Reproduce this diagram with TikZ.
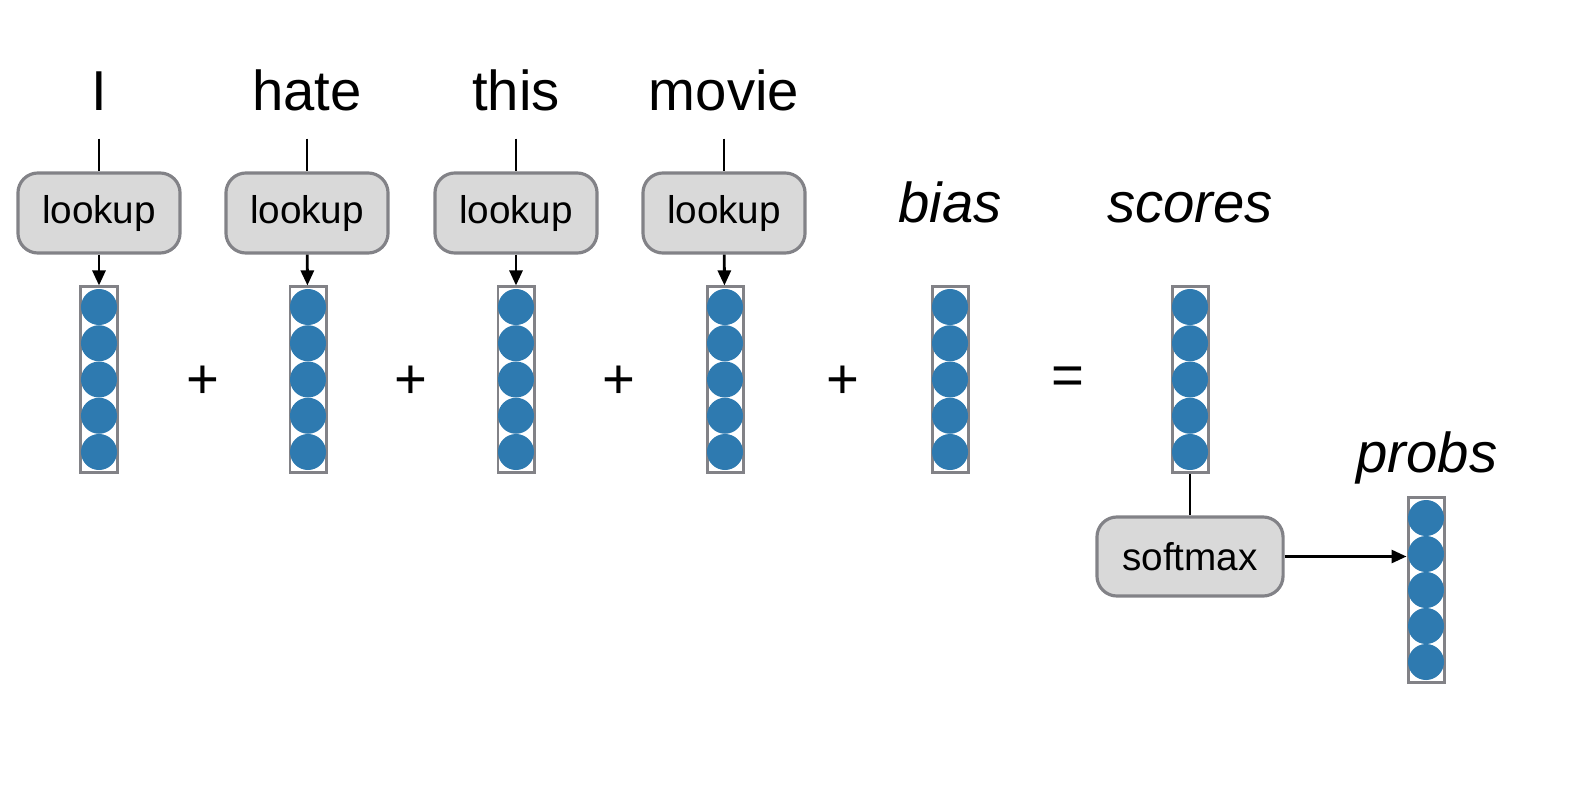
\documentclass[tikz,border=0pt]{standalone}
\usepackage{fontspec}
\setmainfont{Liberation Sans}
\usepackage{xcolor}
\usetikzlibrary{arrows.meta}

\definecolor{dotblue}{RGB}{46,122,176}
\definecolor{boxgrey}{RGB}{217,217,217}
\definecolor{edgegrey}{RGB}{130,130,135}

\tikzset{
  fn/.style={draw=edgegrey, fill=boxgrey, rounded corners=0.2cm, line width=0.9pt,
    minimum width=1.62cm, minimum height=0.8cm, inner sep=0pt, font=\fontsize{11}{13}\selectfont},
  vecbox/.style={draw=edgegrey, line width=0.85pt, minimum width=0.36cm, minimum height=1.85cm, inner sep=0pt},
  word/.style={font=\fontsize{16}{19}\selectfont, text depth=0pt, inner sep=0pt},
  link/.style={line width=0.8pt, black},
  arr/.style={link, -{Triangle[length=0.15cm,width=0.13cm]}}
}

\begin{document}
\begin{tikzpicture}[x=0.01cm,y=-0.01cm]
\useasboundingbox (0,0) rectangle (1580,788);

% input words
\node[word, anchor=base] (wI) at (99,111) {I};
\node[word, anchor=base] (whate) at (307,111) {hate};
\node[word, anchor=base] (wthis) at (516,111) {this};
\node[word, anchor=base] (wmovie) at (724,111) {movie};

% lookups
\node[fn] (lkI) at (99,213) {lookup};
\node[fn] (lkhate) at (307,213) {lookup};
\node[fn] (lkthis) at (516,213) {lookup};
\node[fn] (lkmovie) at (724,213) {lookup};

% vectors
\node[vecbox] (vI) at (99,379.5) {};
\node[vecbox] (vhate) at (308,379.5) {};
\node[vecbox] (vthis) at (516,379.5) {};
\node[vecbox] (vmovie) at (725,379.5) {};
\node[vecbox] (vbias) at (950,379.5) {};
\node[vecbox] (vscores) at (1190,379.5) {};
\node[vecbox] (vprobs) at (1426,590) {};
\foreach \x in {99,308,516,725,950,1190}
  \foreach \k in {0,...,4}
    \fill[dotblue] (\x,307+36.25*\k) circle[radius=0.18cm];
\foreach \k in {0,...,4}
  \fill[dotblue] (1426,518+36*\k) circle[radius=0.18cm];

% labels
\node[word, anchor=base, font=\fontsize{16}{19}\selectfont\itshape] (lbias) at (950,222) {bias};
\node[word, anchor=base, font=\fontsize{16}{19}\selectfont\itshape] (lscores) at (1190,222) {scores};
\node[word, anchor=base, font=\fontsize{16}{19}\selectfont\itshape] (lprobs) at (1427,472) {probs};

% operators
\node[word] (p1) at (203,382) {+};
\node[word] (p2) at (411,382) {+};
\node[word] (p3) at (619,382) {+};
\node[word] (p4) at (843,382) {+};
\node[word] (eq) at (1068,381) {=};

% softmax
\node[fn, minimum width=1.86cm, minimum height=0.79cm] (sm) at (1190,556.5) {softmax};

% connections
\draw[link, shorten <=0.27cm] (wI) -- (lkI);
\draw[link, shorten <=0.27cm] (whate) -- (lkhate);
\draw[link, shorten <=0.27cm] (wthis) -- (lkthis);
\draw[link, shorten <=0.27cm] (wmovie) -- (lkmovie);
\draw[arr] (lkI) -- (vI);
\draw[arr] (lkhate) -- (vhate);
\draw[arr] (lkthis) -- (vthis);
\draw[arr] (lkmovie) -- (vmovie);
\draw[link] (vscores) -- (sm);
\draw[arr] (sm.east) -- (sm.east -| vprobs.west);
\end{tikzpicture}
\end{document}
